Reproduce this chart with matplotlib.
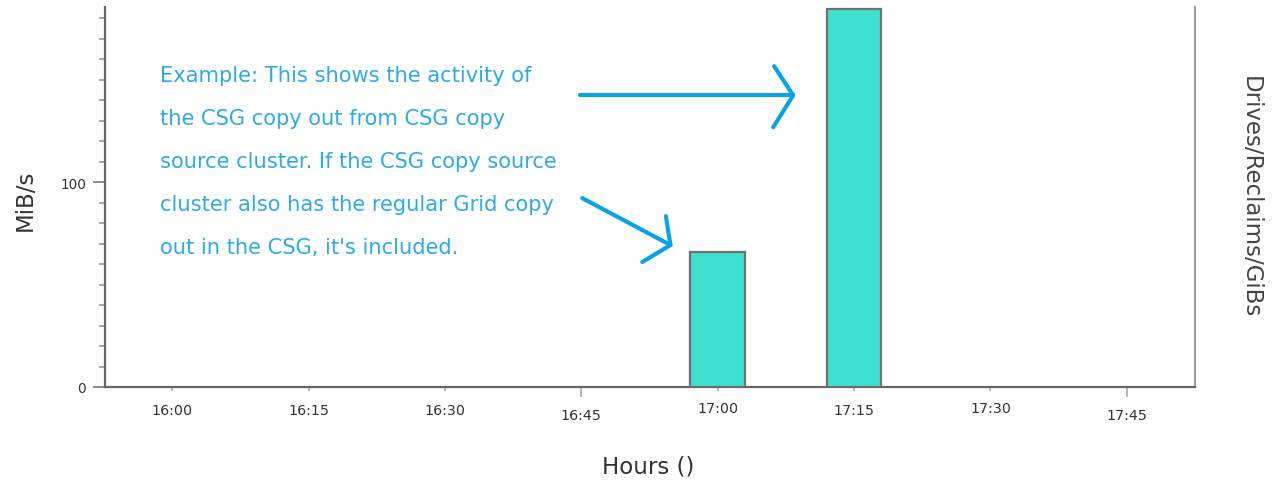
import matplotlib.pyplot as plt

# minutes after 16:00
tick_minutes = [0, 15, 30, 45, 60, 75, 90, 105]
tick_labels = ['16:00', '16:15', '16:30', '16:45', '17:00', '17:15', '17:30', '17:45']
bar_minutes = [60, 75]
bar_values = [66, 184.5]

note_lines = [
    "Example: This shows the activity of",
    "the CSG copy out from CSG copy",
    "source cluster. If the CSG copy source",
    "cluster also has the regular Grid copy",
    "out in the CSG, it's included.",
]

plt.rcParams['font.family'] = 'DejaVu Sans'

fig = plt.figure(figsize=(12.73, 4.85), dpi=100)
ax = fig.add_axes([105 / 1273, 97 / 485, 1090 / 1273, 380 / 485])

ax.bar(bar_minutes, bar_values, width=6, color='#40E0D0',
       edgecolor='#707070', linewidth=1.6, zorder=3)

ax.set_xlim(-7.4, 112.5)
ax.set_ylim(0, 185.5)

ax.set_xticks(tick_minutes)
ax.set_xticklabels(tick_labels, fontsize=10.3, color='#333333')
ax.set_yticks([0, 100])
ax.set_yticklabels(['0', '100'], fontsize=9.8, color='#333333')
ax.set_yticks(range(0, 190, 10), minor=True)
ax.tick_params(axis='x', length=3, width=1.2, color='#aaaaaa')
ax.tick_params(axis='y', which='major', length=8.6, width=1.2, color='#777777', pad=5)
ax.tick_params(axis='y', which='minor', length=4.3, width=1.2, color='#999999')

# staggered tick labels like the original (pad counted from a 3pt tick)
pads = [8.3, 8.3, 8.3, 12.2, 7.0, 8.3, 7.0, 12.2]
lengths = [3, 3, 3, 7.2, 3, 3, 3, 7.2]
for t, p, L in zip(ax.xaxis.get_major_ticks(), pads, lengths):
    t.set_pad(p)
    t.tick1line.set_markersize(L)

for s in ['left', 'bottom']:
    ax.spines[s].set_color('#666666')
    ax.spines[s].set_linewidth(1.6)
ax.spines['right'].set_color('#888888')
ax.spines['right'].set_linewidth(1.2)
ax.spines['top'].set_visible(False)

ax.set_xlabel('Hours ()', fontsize=16.5, color='#333333', va='center')
ax.xaxis.set_label_coords(0.498, -0.208)
ax.set_ylabel('MiB/s', fontsize=16.5, color='#333333', va='center')
ax.yaxis.set_label_coords(-0.0734, 0.495)
ax.text(1.0505, 0.503, 'Drives/Reclaims/GiBs', transform=ax.transAxes,
        fontsize=16.5, color='#444444', rotation=270,
        ha='center', va='center')

for i, line in enumerate(note_lines):
    ax.text(-1.3, 149.4 - i * 21.0, line, fontsize=15.1, color='#2EAAE8',
            va='baseline', ha='left', zorder=4)

blue = '#0BA3E6'
kw = dict(color=blue, lw=3, solid_capstyle='round', zorder=5)
# hand-drawn arrow to the 17:15 bar
ax.plot([44.9, 68.3], [142.4, 142.4], **kw)
ax.plot([66.2, 68.3, 66.1], [156.6, 142.4, 126.8], **kw)
# hand-drawn arrow to the 17:00 bar
ax.plot([45.1, 54.8], [92.2, 69.3], **kw)
ax.plot([54.3, 54.8, 51.7], [83.4, 69.3, 61.0], **kw)

plt.savefig('out.png', dpi=100)
